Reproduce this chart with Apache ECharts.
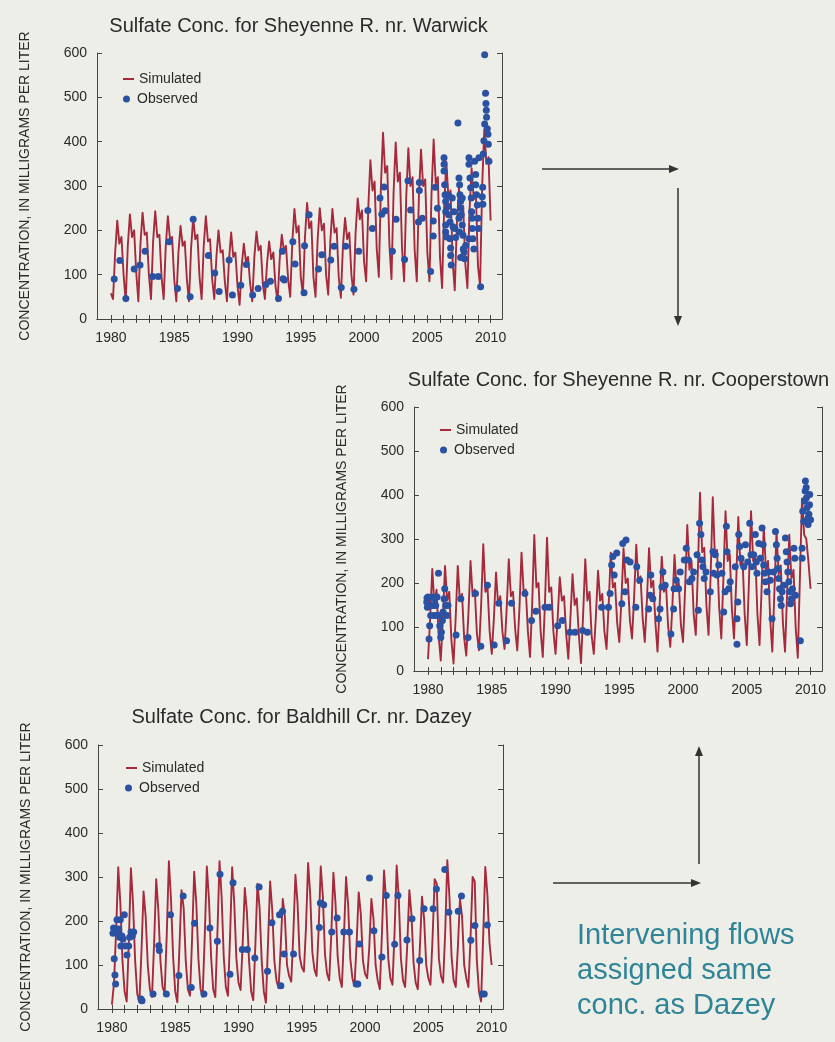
<!DOCTYPE html>
<html><head><meta charset="utf-8">
<script src="https://cdn.jsdelivr.net/npm/echarts@6/dist/echarts.min.js"></script>
<style>html,body{margin:0;padding:0;background:#edeee8;}#c{width:835px;height:1042px;}</style>
</head><body><div id="c"></div>
<script>
// ---------- data ----------
const chartTitles = [
  'Sulfate Conc. for Sheyenne R. nr. Warwick',
  'Sulfate Conc. for Sheyenne R. nr. Cooperstown',
  'Sulfate Conc. for Baldhill Cr. nr. Dazey'
];
const yAxisTitle = 'CONCENTRATION, IN MILLIGRAMS PER LITER';
const seriesNames = ['Simulated', 'Observed'];
const yearTicks = [1980,1981,1982,1983,1984,1985,1986,1987,1988,1989,1990,1991,1992,1993,1994,1995,1996,1997,1998,1999,2000,2001,2002,2003,2004,2005,2006,2007,2008,2009,2010];
const yearLabels = [1980,1985,1990,1995,2000,2005,2010];
const annotationLines = ['Intervening flows', 'assigned same', 'conc. as Dazey'];

// simulated concentrations, six readings per year (Jan, Mar, May, Jul, Sep, Nov) from 1980 to 2010
const simStartYear = 1980;
const simPerYear = 6;
const simWarwick = [
  58,45,150,222,170,185,  100,40,165,236,185,200,  105,40,170,240,190,195,  100,45,175,243,185,190,
  95,45,165,232,180,185,  90,40,150,210,165,175,   90,40,160,228,180,190,   95,45,165,232,175,180,
  90,45,140,200,150,155,  85,40,135,195,140,150,   75,32,120,170,130,140,   80,40,140,197,155,165,
  80,45,125,175,135,150,  75,40,135,190,155,165,   90,50,175,248,195,210,   95,55,185,262,205,220,
  95,50,180,250,200,215,  100,55,175,248,195,205,  95,48,165,228,180,195,   100,55,195,272,225,245,
  130,85,250,358,290,310, 160,95,300,420,330,345,  170,90,285,398,310,330,  160,85,275,385,300,320,
  155,85,275,382,300,315, 150,85,285,405,305,320,  140,70,255,355,275,290,  130,65,215,295,240,255,
  125,70,245,340,270,285, 120,75,300,428,350,365,  222
];
const simCooperstown = [
  27,120,232,150,185,80,   24,120,239,160,180,70,   17,120,239,160,175,75,   35,130,250,170,185,85,
  47,150,288,180,190,90,   39,120,224,150,170,90,   50,140,254,170,180,95,   47,140,269,180,185,90,
  32,150,309,190,200,90,   32,150,303,180,190,90,   39,120,213,160,170,85,   28,120,220,150,165,80,
  18,130,254,160,180,80,   39,125,228,160,175,90,   50,150,269,190,200,110,  66,160,279,200,210,115,
  74,170,287,200,215,120,  66,160,279,190,205,110,  44,150,260,180,195,100,  55,150,264,185,200,105,
  66,190,332,230,250,130,  82,230,405,270,280,150,  82,220,395,260,275,145,  74,210,363,250,265,140,
  74,200,350,240,255,130,  59,200,363,250,265,130,  59,190,329,230,250,120,  44,180,317,220,240,110,
  44,180,310,210,230,100,  30,210,392,310,300,250,  187
];
const simDazey = [
  10,60,180,322,240,110,   40,17,150,320,240,110,   35,15,130,267,210,100,   45,27,150,295,225,110,
  50,36,170,336,250,120,   40,15,140,270,230,110,   45,30,160,312,240,115,   45,28,165,324,250,120,
  45,27,170,336,255,120,   50,30,165,322,240,115,   60,43,150,275,220,110,   40,20,145,285,230,110,
  40,14,150,290,225,110,   65,47,140,250,210,100,   75,62,170,305,240,120,   95,85,185,332,260,130,
  90,75,180,324,255,125,   80,65,170,310,240,120,   70,50,165,300,235,115,   70,52,150,265,215,110,
  80,70,140,250,205,100,   65,45,170,315,245,115,   70,55,175,326,250,115,   65,50,145,270,215,105,
  60,45,140,255,205,100,   70,55,160,295,285,115,   75,60,175,338,255,120,   65,50,140,250,210,100,
  70,50,160,300,290,110,   40,17,165,323,260,150,   100
];

// observed samples: [decimal year, mg/L]
const obsWarwick = [
  [1980.26,90],[1980.7,132],[1981.18,46],[1981.84,113],[1982.3,122],[1982.7,153],[1983.3,96],[1983.74,96],
  [1984.6,174],[1985.26,69],[1986.26,50],[1986.5,225],[1987.7,143],[1988.2,104],[1988.55,62],[1989.34,133],
  [1989.6,54],[1990.26,76],[1990.7,123],[1991.2,54],[1991.63,69],[1992.24,78],[1992.6,85],[1993.24,46],
  [1993.55,153],[1993.6,91],[1993.7,88],[1994.37,174],[1994.55,124],[1995.26,59],[1995.3,165],[1995.66,235],
  [1996.4,113],[1996.66,145],[1997.37,133],[1997.63,164],[1998.2,71],[1998.55,164],[1999.2,67],[1999.58,153],
  [2000.3,245],[2000.66,204],[2001.26,273],[2001.4,236],[2001.58,298],[2001.66,244],[2002.24,153],[2002.53,225],
  [2003.2,134],[2003.47,312],[2003.68,246],[2004.3,219],[2004.37,290],[2004.37,308],[2004.6,227],[2005.26,107],
  [2005.47,187],[2005.47,221],[2005.63,297],[2005.8,250],
  [2006.32,364],[2006.32,349],[2006.32,334],[2006.37,303],[2006.4,280],[2006.45,265],[2006.45,242],[2006.45,212],
  [2006.45,196],[2006.53,185],[2006.58,280],[2006.63,254],[2006.68,235],[2006.74,277],[2006.79,219],[2006.79,181],
  [2006.84,160],[2006.84,143],[2006.89,122],[2006.97,273],[2007.03,208],[2007.1,242],[2007.18,204],[2007.24,184],
  [2007.42,442],[2007.5,318],[2007.55,303],[2007.58,280],[2007.63,265],[2007.63,250],[2007.68,235],[2007.76,273],
  [2007.76,212],[2007.82,189],[2007.84,158],[2007.9,151],[2007.95,136],[2008.03,166],[2007.5,227],[2007.55,196],
  [2007.63,139],
  [2008.29,364],[2008.29,349],[2008.37,318],[2008.42,296],[2008.47,273],[2008.5,242],[2008.53,227],[2008.55,204],
  [2008.6,181],[2008.68,158],[2008.29,181],[2008.74,356],[2008.82,326],[2008.82,303],[2008.89,280],[2008.95,257],
  [2009.0,227],[2009.03,204],[2009.08,364],
  [2009.21,73],[2009.34,276],[2009.39,259],[2009.37,297],[2009.42,372],[2009.47,402],[2009.53,440],[2009.53,596],
  [2009.6,509],[2009.63,486],[2009.66,471],[2009.68,455],[2009.74,429],[2009.79,417],[2009.82,394],[2009.87,356]
];
const obsCooperstown = [
  [1979.9,157],[1979.92,166],[1979.95,145],[1980.0,168],[1980.08,73],[1980.13,103],[1980.21,126],[1980.26,149],
  [1980.34,168],[1980.39,149],[1980.45,126],[1980.52,164],[1980.6,149],[1980.65,126],[1980.71,168],[1980.82,222],
  [1980.86,126],[1980.92,103],[1981.0,76],[1981.05,88],[1981.13,115],[1981.18,134],[1981.26,164],[1981.31,187],
  [1981.39,149],[1981.49,126],[1981.57,149],
  [1982.2,82],[1982.57,164],[1983.14,76],[1983.72,176],[1984.14,56],[1984.66,195],[1985.19,59],[1985.55,154],
  [1986.16,69],[1986.55,154],[1987.6,176],[1988.12,115],[1988.46,136],[1989.17,145],[1989.51,145],[1990.17,103],
  [1990.53,115],[1991.13,88],[1991.53,88],[1992.13,92],[1992.5,88],[1993.62,145],[1994.15,145],[1994.28,176],
  [1994.4,241],[1994.5,260],[1994.6,218],[1994.8,268],[1995.2,153],[1995.27,290],[1995.53,298],[1995.45,180],
  [1995.6,252],[1995.85,248],[1996.3,145],[1996.37,237],[1996.6,206],[1997.3,141],[1997.42,172],[1997.47,218],
  [1997.63,164],[1998.08,119],[1998.2,141],[1998.34,191],[1998.42,225],[1998.6,195],[1999.05,84],[1999.26,141],
  [1999.3,187],[1999.47,206],[1999.65,187],[1999.78,225],[2000.1,252],[2000.25,279],[2000.43,252],[2000.5,203],
  [2000.7,210],[2000.83,225],[2001.1,264],[2001.2,138],[2001.3,336],[2001.4,310],[2001.48,252],[2001.56,237],
  [2001.66,210],[2001.8,225],[2002.14,180],[2002.35,271],[2002.4,222],[2002.53,264],[2002.66,218],[2002.8,241],
  [2003.05,222],[2003.19,134],[2003.3,180],[2003.4,329],[2003.45,271],[2003.58,187],[2003.7,203],[2004.1,237],
  [2004.23,61],[2004.23,119],[2004.3,157],[2004.37,310],[2004.44,283],[2004.55,256],[2004.76,237],[2004.9,287],
  [2005.07,248],[2005.23,336],[2005.33,264],[2005.41,237],[2005.54,264],[2005.67,310],[2005.75,248],[2005.8,222],
  [2005.94,290],[2006.07,256],[2006.2,325],[2006.28,287],[2006.33,241],[2006.38,222],[2006.46,203],[2006.59,180],
  [2006.72,225],[2006.85,206],[2006.98,119],[2007.1,225],[2007.25,317],[2007.32,287],[2007.38,256],[2007.43,233],
  [2007.5,210],[2007.57,187],[2007.64,164],[2007.7,149],[2007.77,180],[2007.9,195],[2008.03,302],[2008.1,271],
  [2008.16,248],[2008.22,225],[2008.3,203],[2008.37,180],[2008.43,153],[2008.5,164],[2008.58,187],[2008.7,279],
  [2008.77,256],[2008.82,172],[2009.2,69],[2009.34,279],[2009.34,256],[2009.39,363],[2009.47,340],[2009.52,386],
  [2009.58,409],[2009.6,432],[2009.66,417],[2009.68,394],[2009.73,371],[2009.79,348],[2009.81,333],[2009.87,356],
  [2009.92,378],[2009.94,401],[2010.0,344]
];
const obsDazey = [
  [1980.08,172],[1980.13,184],[1980.18,114],[1980.24,77],[1980.29,57],[1980.34,182],[1980.4,203],[1980.45,175],
  [1980.53,182],[1980.61,163],[1980.66,203],[1980.71,143],[1980.79,166],[1980.87,159],[1980.98,214],[1981.06,143],
  [1981.19,123],[1981.32,143],[1981.4,163],[1981.51,175],[1981.61,166],[1981.72,175],
  [1982.3,23],[1982.38,19],[1983.25,34],[1983.7,144],[1983.75,133],[1984.3,34],[1984.63,214],[1985.29,76],
  [1985.63,257],[1986.27,49],[1986.53,195],[1987.27,34],[1987.74,184],[1988.33,154],[1988.54,306],[1989.33,79],
  [1989.57,287],[1990.3,135],[1990.7,135],[1991.29,116],[1991.63,277],[1992.29,86],[1992.64,196],[1993.24,214],
  [1993.35,53],[1993.48,222],[1993.6,125],[1994.35,125],[1996.39,185],[1996.47,241],[1996.73,237],[1997.37,175],
  [1997.79,207],[1998.32,175],[1998.77,175],[1999.3,57],[1999.43,57],[1999.56,148],[2000.35,298],[2000.7,178],
  [2001.33,118],[2001.68,258],[2002.34,147],[2002.6,258],[2003.31,157],[2003.71,205],[2004.32,110],[2004.66,228],
  [2005.38,228],[2005.64,273],[2006.3,317],[2006.62,220],[2007.36,222],[2007.62,257],[2008.36,156],[2008.68,190],
  [2009.26,34],[2009.42,34],[2009.66,191]
];

// ---------- layout ----------
const grids = [
  {left: 97,  top: 53,  width: 405, height: 266},
  {left: 414, top: 407, width: 408, height: 264},
  {left: 98,  top: 745, width: 405, height: 264}
];
const legendPos = [
  {sim: [123, 72],  obs: [123, 92]},
  {sim: [440, 423], obs: [440, 443]},
  {sim: [126, 761], obs: [125, 781]}
];
const titlePos = [[298.5, 26.5], [618.5, 380], [301.5, 717]];

const FONT = '"Liberation Sans", Arial, Helvetica, sans-serif';
const TXT = '#2a2a2a';
const AX = '#454545';
const SIM_COLOR = '#a42a3c';
const OBS_COLOR = '#2b52a2';

const simSets = [simWarwick, simCooperstown, simDazey];
const obsSets = [obsWarwick, obsCooperstown, obsDazey];

function simPairs(arr) {
  return arr.map((v, i) => [simStartYear + i / simPerYear, v]);
}

const xAxes = [], yAxes = [], series = [], legends = [], graphics = [];
grids.forEach((g, i) => {
  const xBase = {
    gridIndex: i, type: 'value', min: 1978.9, max: 2010.9,
    axisLine: {show: true, lineStyle: {color: AX, width: 1}},
    axisTick: {show: true, inside: true, length: 4, customValues: yearTicks, lineStyle: {color: AX}},
    splitLine: {show: false}
  };
  xAxes.push(Object.assign({}, xBase, {
    position: 'bottom',
    axisLabel: {customValues: yearLabels, formatter: v => String(v), fontSize: 14, color: TXT, fontFamily: FONT, margin: 12}
  }));
  xAxes.push(Object.assign({}, xBase, {position: 'top', axisLabel: {show: false}}));
  const yBase = {
    gridIndex: i, type: 'value', min: 0, max: 600, interval: 100,
    axisLine: {show: true, lineStyle: {color: AX, width: 1}},
    axisTick: {show: true, inside: true, length: 5, lineStyle: {color: AX}},
    splitLine: {show: false}
  };
  yAxes.push(Object.assign({}, yBase, {
    position: 'left',
    name: yAxisTitle, nameLocation: 'middle', nameGap: 65,
    nameTextStyle: {fontSize: 14, color: TXT, fontFamily: FONT},
    axisLabel: {fontSize: 14, color: TXT, fontFamily: FONT, margin: 10}
  }));
  yAxes.push(Object.assign({}, yBase, {position: 'right', axisLabel: {show: false}}));

  series.push({
    name: seriesNames[0], type: 'line', xAxisIndex: 2 * i, yAxisIndex: 2 * i,
    data: simPairs(simSets[i]), showSymbol: false, symbol: 'none',
    lineStyle: {color: SIM_COLOR, width: 1.9, join: 'round'}, itemStyle: {color: SIM_COLOR},
    z: 2, animation: false
  });
  series.push({
    name: seriesNames[1], type: 'scatter', xAxisIndex: 2 * i, yAxisIndex: 2 * i,
    data: obsSets[i], symbolSize: 7, itemStyle: {color: OBS_COLOR, opacity: 1},
    z: 3, animation: false
  });

  const lp = legendPos[i];
  legends.push({
    data: [seriesNames[0]], left: lp.sim[0], top: lp.sim[1], padding: 0, selectedMode: false,
    icon: 'rect', itemWidth: 11, itemHeight: 2,
    textStyle: {fontSize: 14, color: TXT, fontFamily: FONT}
  });
  legends.push({
    data: [seriesNames[1]], left: lp.obs[0], top: lp.obs[1], padding: 0, selectedMode: false,
    icon: 'circle', itemWidth: 11, itemHeight: 7,
    textStyle: {fontSize: 14, color: TXT, fontFamily: FONT}
  });

  graphics.push({
    type: 'text', x: titlePos[i][0], y: titlePos[i][1],
    style: {text: chartTitles[i], fontSize: 20, fontFamily: FONT, fill: TXT, align: 'center', verticalAlign: 'middle'}
  });
});

// flow arrows
function arrow(x1, y1, x2, y2) {
  const dx = x2 - x1, dy = y2 - y1, len = Math.hypot(dx, dy);
  const ux = dx / len, uy = dy / len, hl = 10, hw = 4;
  const bx = x2 - ux * hl, by = y2 - uy * hl;
  graphics.push({type: 'line', shape: {x1, y1, x2: bx, y2: by}, style: {stroke: '#333', lineWidth: 1.5}});
  graphics.push({type: 'polygon', shape: {points: [[x2, y2], [bx - uy * hw, by + ux * hw], [bx + uy * hw, by - ux * hw]]}, style: {fill: '#333'}});
}
arrow(542, 169, 679, 169);
arrow(678, 188, 678, 326);
arrow(553, 883, 701, 883);
arrow(699, 864, 699, 746);

graphics.push({
  type: 'text', x: 577, y: 971,
  style: {text: annotationLines.join('\n'), fontSize: 29, lineHeight: 35, fontFamily: FONT, fill: '#2f8597', align: 'left', verticalAlign: 'middle'}
});

const chart = echarts.init(document.getElementById('c'), null, {renderer: 'canvas'});
chart.setOption({
  backgroundColor: '#edeee8',
  animation: false,
  grid: grids.map(g => Object.assign({containLabel: false, show: false}, g)),
  xAxis: xAxes,
  yAxis: yAxes,
  legend: legends,
  series: series,
  graphic: graphics
});
</script>
</body></html>
